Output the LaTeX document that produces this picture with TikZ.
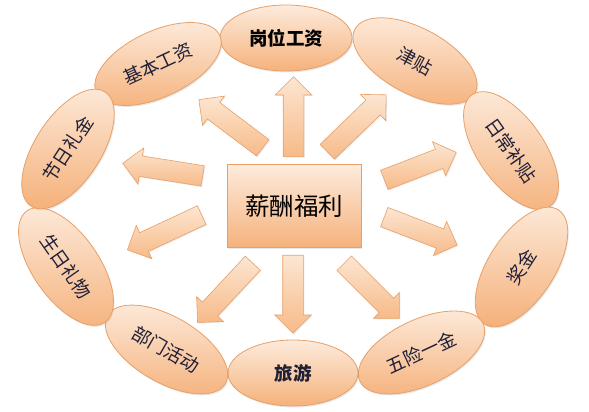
\documentclass[tikz,border=0pt]{standalone}
\usepackage{fontspec}
\newfontfamily\cjk{Noto Sans CJK SC}
\usetikzlibrary{shapes.geometric,shapes.arrows,shadows}
\definecolor{elltop}{HTML}{FDEBDC}
\definecolor{ellbot}{HTML}{F5B27C}
\definecolor{ellline}{HTML}{E8A068}
\definecolor{arrtop}{HTML}{FCE6D2}
\definecolor{arrbot}{HTML}{F7BA88}
\definecolor{txt}{HTML}{1F1F36}
\begin{document}
\begin{tikzpicture}[x=1pt,y=1pt,
  item/.style={ellipse, draw=ellline, line width=0.8pt, top color=elltop, bottom color=ellbot,
    minimum width=136, minimum height=66, inner sep=0, text=txt,
    font=\cjk\fontsize{18.5}{18.5}\selectfont,
    drop shadow={opacity=0.18, shadow xshift=1pt, shadow yshift=-1.5pt}},
  barrow/.style={single arrow, draw=ellline, line width=0.6pt, top color=arrtop, bottom color=arrbot,
    minimum width=36, single arrow head extend=8, inner xsep=0, inner ysep=10,
    single arrow head indent=0, anchor=tail,
    drop shadow={opacity=0.15, shadow xshift=1pt, shadow yshift=-1pt}},
  centerbox/.style={rectangle, draw=ellline, line width=0.8pt, top color=elltop, bottom color=ellbot,
    minimum width=134, minimum height=83, inner sep=0, font=\cjk\fontsize{24.5}{24.5}\selectfont, text=black,
    drop shadow={opacity=0.18, shadow xshift=1pt, shadow yshift=-1.5pt}}
]
\fill[white] (0,0) rectangle (589,412);
\useasboundingbox (0,0) rectangle (589,412);

% ellipses
\node[item, minimum width=132, text=black, font=\cjk\bfseries\fontsize{18.5}{18.5}\selectfont] (e1) at (286,374) {岗位工资};
\node[item, rotate=25]  (e2)  at (158,348)   {基本工资};
\node[item, rotate=-28] (e3)  at (415,351)   {津贴};
\node[item, rotate=-55] (e4)  at (511,261.5) {日常补贴};
\node[item, rotate=57]  (e5)  at (521.5,145) {奖金};
\node[item, rotate=25]  (e6)  at (421.5,59.5){五险一金};
\node[item, minimum width=130, font=\cjk\bfseries\fontsize{18.5}{18.5}\selectfont] (e7) at (293,39) {旅游};
\node[item, rotate=-30] (e8)  at (166.5,62.5){部门活动};
\node[item, rotate=-55] (e9)  at (66,145.5)  {生日礼物};
\node[item, rotate=57]  (e10) at (68,263)    {节日礼金};

% centre
\node[centerbox] (c) at (294,206) {薪酬福利};

% block arrows
\node[barrow, rotate=90,  minimum height=80] (a1)  at (293.5,255) {};
\node[barrow, rotate=143, minimum height=80] (a2)  at (263,264)   {};
\node[barrow, rotate=171, minimum height=81] (a3)  at (203,236)   {};
\node[barrow, rotate=44,  minimum height=82] (a4)  at (327,260)   {};
\node[barrow, rotate=21,  minimum height=77] (a5)  at (384,232)   {};
\node[barrow, rotate=-21, minimum height=78] (a6)  at (384,195)   {};
\node[barrow, rotate=-45, minimum height=78] (a7)  at (344,149)   {};
\node[barrow, rotate=-90, minimum height=78] (a8)  at (293,157)   {};
\node[barrow, rotate=227, minimum height=81] (a9)  at (253,149)   {};
\node[barrow, rotate=205, minimum height=82] (a10) at (202,197)   {};
\end{tikzpicture}
\end{document}
